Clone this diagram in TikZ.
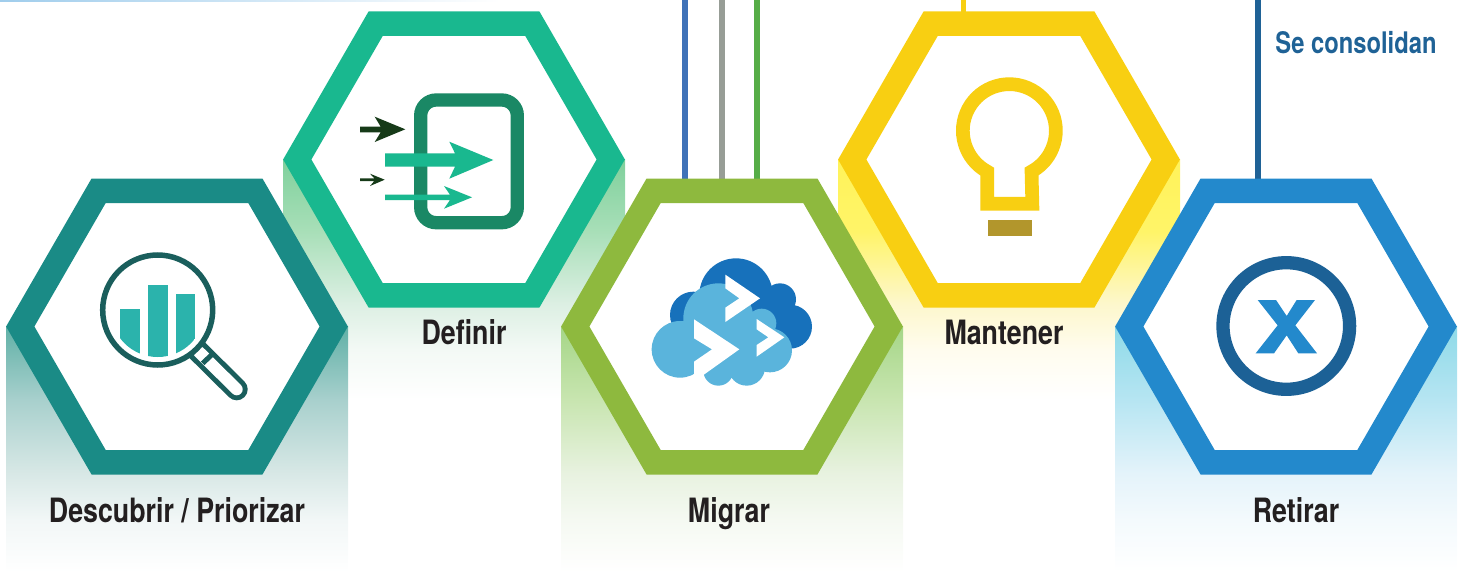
\documentclass[tikz,border=0pt]{standalone}
\usepackage{fontspec}
\setmainfont{TeX Gyre Heros}[FakeStretch=0.8]
\usetikzlibrary{shapes.geometric,backgrounds}
\definecolor{cOne}{HTML}{1A8B86}
\definecolor{cTwo}{HTML}{19B88F}
\definecolor{cThree}{HTML}{8EB93E}
\definecolor{cFour}{HTML}{F8CF12}
\definecolor{cFive}{HTML}{2389CC}
\definecolor{cDeep}{HTML}{1C6196}
\definecolor{cInk}{HTML}{231F20}
\definecolor{cLens}{HTML}{1A5E5C}
\definecolor{cBar}{HTML}{2BB3AC}
\definecolor{cBox}{HTML}{1A8865}
\definecolor{cDark}{HTML}{163A18}
\definecolor{cCloudA}{HTML}{1771BB}
\definecolor{cCloudB}{HTML}{5AB4DC}
\definecolor{cBase}{HTML}{B2962C}
\definecolor{topLine}{HTML}{A0CDEC}
\definecolor{lineBlue}{HTML}{3F72B8}
\definecolor{lineGrey}{HTML}{979D96}
\definecolor{lineGreen}{HTML}{56AD47}
\definecolor{lineDeep}{HTML}{1F6296}
% name, then four colours from the top of the band down; white at the end
\newcommand\bandshading[5]{%
  \definecolor{#1a}{HTML}{#2}\definecolor{#1b}{HTML}{#3}\definecolor{#1c}{HTML}{#4}\definecolor{#1d}{HTML}{#5}%
  \pgfdeclareverticalshading{#1}{100bp}{color(0bp)=(white);color(25bp)=(white);color(35.5bp)=(#1d);color(45bp)=(#1c);color(60bp)=(#1b);color(75bp)=(#1a);color(100bp)=(#1a)}}
\bandshading{bandOne}{5FB0A6}{A8D0CD}{D8E8E6}{F2F7F7}
\bandshading{bandTwo}{7FD09C}{A8DFB8}{DCEFE3}{F3F9F5}
\bandshading{bandThree}{A5D687}{C8E5B0}{E8F2E0}{F5F9F2}
\bandshading{bandFour}{FFF35A}{FFF468}{FDF7CC}{FFFCEE}
\bandshading{bandFive}{8EDAE8}{B6E5F2}{E4F3FA}{F4FAFD}
\tikzset{
  hexa/.style={regular polygon,regular polygon sides=6,
    minimum size=313.5pt,inner sep=0pt,outer sep=0pt,line width=24.5pt,fill=white,draw=#1},
  lab/.style={anchor=base,text=cInk,font=\bfseries\fontsize{33.5}{33.5}\selectfont,inner sep=0pt},
  linkline/.style={line width=5.7pt}
}
\begin{document}
\begin{tikzpicture}[x=1pt,y=-1pt]
\useasboundingbox (0,0) rectangle (1464,586);
% hexagons
\node[hexa=cOne]   (descubrir) at (177,326.5) {};
\node[hexa=cTwo]   (definir)   at (454,159.5) {};
\node[hexa=cThree] (migrar)    at (732,326.5) {};
\node[hexa=cFour]  (mantener)  at (1009,159.5) {};
\node[hexa=cFive]  (retirar)   at (1286,326.5) {};
% free ends of the connectors
\coordinate (ta) at (685,0);
\coordinate (tb) at (722,0);
\coordinate (tc) at (757,0);
\coordinate (td) at (963.4,0);
\coordinate (te) at (1258,0);
\begin{pgfonlayer}{background}
  \shade[left color=topLine,right color=white] (0,0) rectangle (500,2);
  \shade[shading=bandTwo] (283,159) rectangle (625,400);
  \shade[shading=bandFour] (838,159) rectangle (1180,400);
  \shade[shading=bandOne] (6,326) rectangle (348,572);
  \shade[shading=bandThree] (561,326) rectangle (903,572);
  \shade[shading=bandFive] (1115,326) rectangle (1457,572);
  \draw[linkline,draw=lineBlue] (ta) -- (ta |- migrar.north);
  \draw[linkline,draw=lineGrey] (tb) -- (tb |- migrar.north);
  \draw[linkline,draw=lineGreen] (tc) -- (tc |- migrar.north);
  \draw[linkline,draw=cFour] (td) -- (td |- mantener.north);
  \draw[linkline,draw=lineDeep] (te) -- (te |- retirar.north);
\end{pgfonlayer}
% labels
\node[lab] (l1) at (177,522) {Descubrir / Priorizar};
\node[lab] (l2) at (464,344) {Definir};
\node[lab] (l3) at (729,522) {Migrar};
\node[lab] (l4) at (1004,344) {Mantener};
\node[lab] (l5) at (1296,522) {Retirar};
\node[anchor=base,inner sep=0pt,text=lineDeep,font=\bfseries\fontsize{29.7}{29.7}\selectfont] (l6) at (1356,53) {Se consolidan};
% magnifier
\draw[cLens,line width=22pt,line cap=round] (197.3,350.3) -- (236.7,389.3);
\draw[white,line width=12pt,line cap=round] (199,352) -- (236.7,389.3);
\draw[cLens,line width=5pt] (202.7,363.3) -- (213.3,353.3);
\draw[cLens,line width=5.5pt,fill=white] (157.7,310) circle[radius=55];
\begin{scope}
  \clip (157.7,310) circle[radius=47];
  \fill[cBar] (120,309) rectangle (140,360);
  \fill[cBar] (148,285) rectangle (168,360);
  \fill[cBar] (175.7,293.7) rectangle (195,360);
\end{scope}
% entry box with arrows
\draw[cBox,line width=13.3pt,rounded corners=15.5pt] (420.7,100) rectangle (517.3,222.7);
\fill[cTwo] (385,153.3) -- (455,153.3) -- (449.3,141.7) -- (493.3,160) -- (449.3,178.7) -- (455,166.7) -- (385,166.7) -- cycle;
\fill[cTwo] (385,194.7) -- (450,194.7) -- (444,186) -- (472,197.3) -- (444,208.7) -- (450,200) -- (385,200) -- cycle;
\fill[cDark] (360,126.7) -- (380.7,126.7) -- (374.7,116.7) -- (405.3,129.3) -- (374.7,142) -- (380.7,132.3) -- (360,132.3) -- cycle;
\fill[cDark] (360,178.3) -- (374.3,178.3) -- (370,173.7) -- (384.7,179.7) -- (370,186) -- (374.3,181) -- (360,181) -- cycle;
% clouds
\begin{scope}[shift={(630,240)},x=0.33333pt,y=-0.33333pt]
  \fill[cCloudA] (318,165) circle[radius=110] (450,178) circle[radius=48]
    (480,260) circle[radius=66] (190,225) circle[radius=70];
  \fill[cCloudA] (200,170) rectangle (470,320);
  \fill[cCloudB] (150,328) circle[radius=85] (265,235) circle[radius=105]
    (395,250) circle[radius=44] (420,331) circle[radius=66]
    (265,392) circle[radius=45] (350,382) circle[radius=55];
  \fill[cCloudB] (150,250) rectangle (430,385);
  \fill[white] (286,104) -- (390,175) -- (286,246) -- (286,203) -- (328,175) -- (286,145) -- cycle;
  \fill[white] (192,238) -- (328,328) -- (216,408) -- (192,416) -- (192,365) -- (246,328) -- (192,295) -- cycle;
  \fill[white] (380,237) -- (463,292) -- (380,350) -- (380,315) -- (415,292) -- (380,268) -- cycle;
\end{scope}
% bulb
\begin{scope}[shift={(930,60)},x=0.33333pt,y=-0.33333pt]
  \draw[cFour,line width=13.7pt,miter limit=10] (171.5,334.6) arc[start angle=118.5,end angle=421.5,radius=139.5] -- (307,431.5) -- (171.5,431.5) -- cycle;
  \fill[cBase] (174,480) rectangle (306,528);
\end{scope}
% retire symbol
\draw[cDeep,line width=13.3pt] (1286.3,326) circle[radius=63.3];
\begin{scope}[shift={(1190,240)},x=0.33333pt,y=-0.33333pt]
  \fill[cFive] (203,180) -- (258,180) -- (290,228) -- (320,180) -- (375,180) -- (316,256) -- (381,340) -- (325,340) -- (290,286) -- (252,340) -- (197,340) -- (263,256) -- cycle;
\end{scope}
\end{tikzpicture}
\end{document}
